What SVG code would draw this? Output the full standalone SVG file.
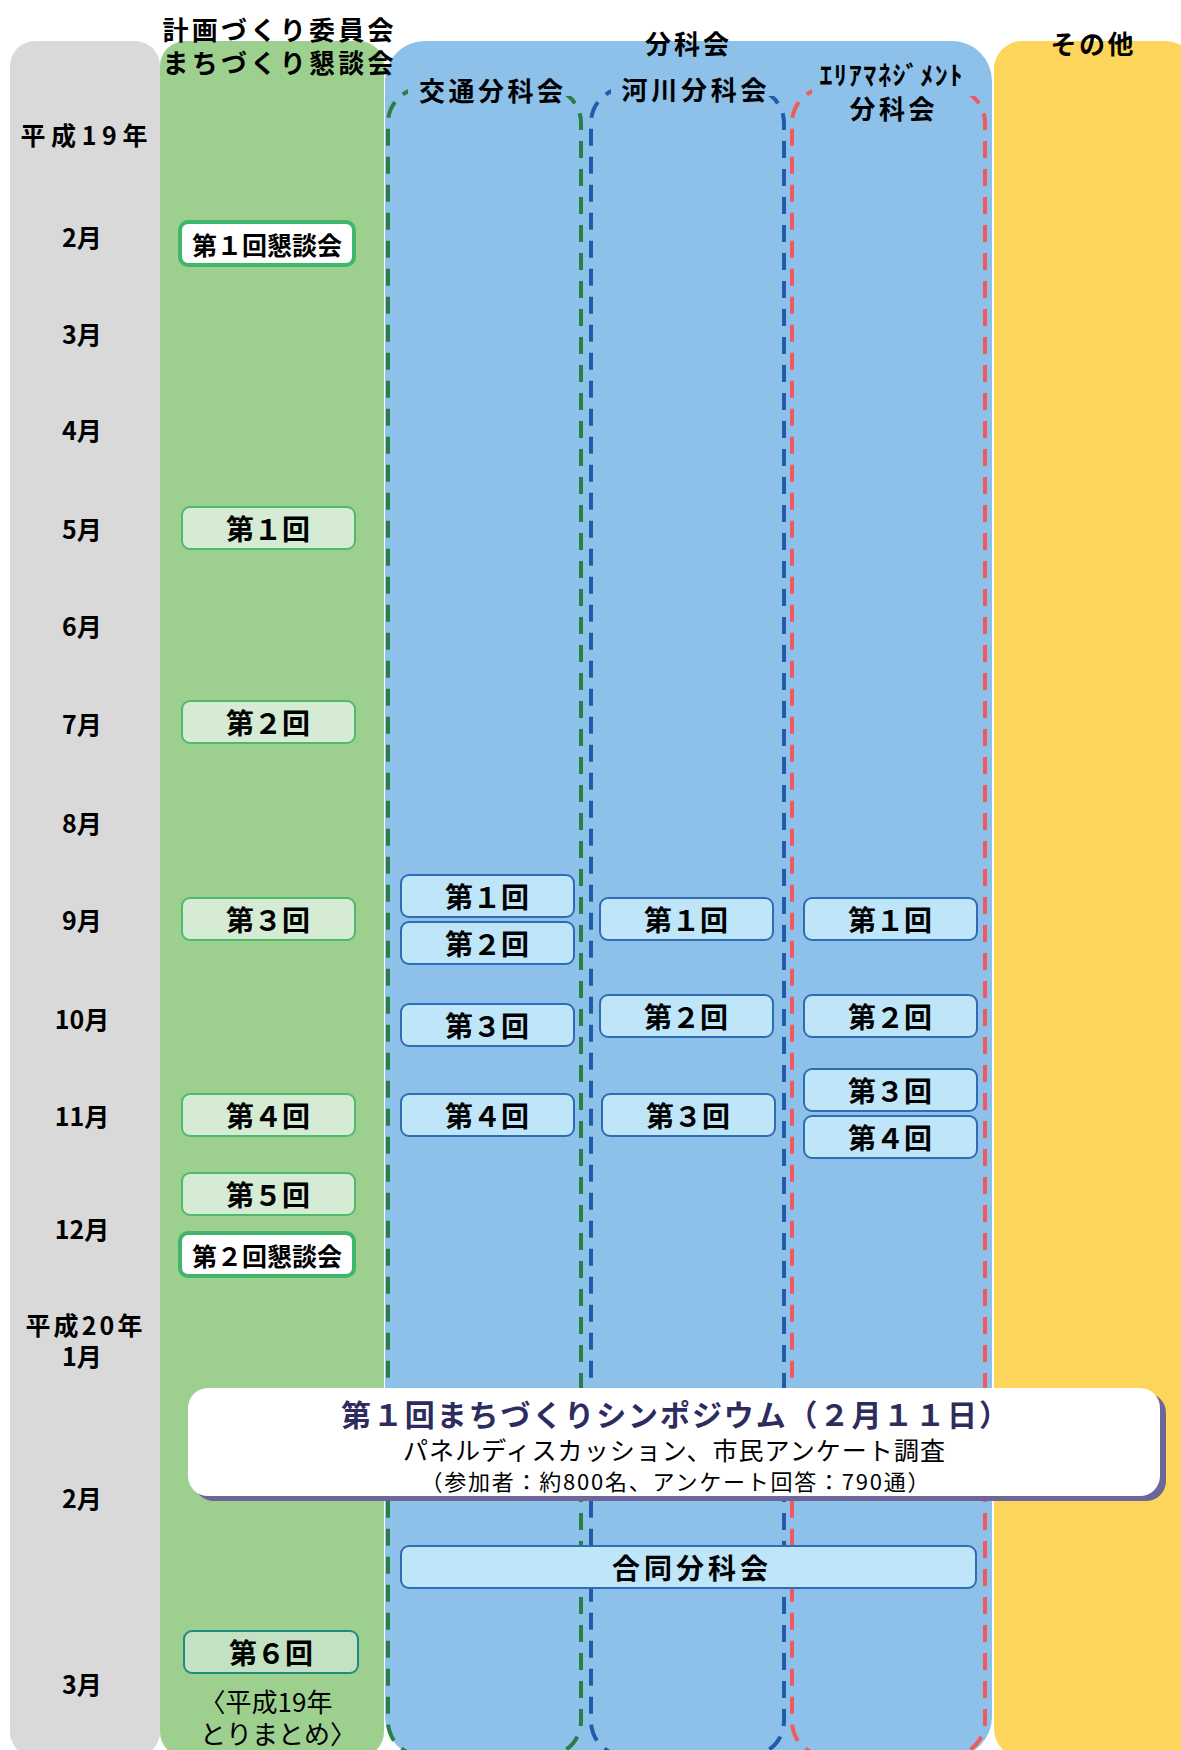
<svg xmlns="http://www.w3.org/2000/svg" width="1181" height="1750" viewBox="0 0 1181 1750">
<style>
text{font-family:"Noto Sans CJK JP","Noto Sans CJK SC",sans-serif;text-anchor:middle;dominant-baseline:central;fill:#000}
.hdr{font-size:26px;font-weight:bold}
.mon{font-size:25px;font-weight:bold}
.bx{font-size:28px;font-weight:bold}
.bx2{font-size:25px;font-weight:bold}
.gbox{fill:#D5EBD4;stroke:#4DBB6D;stroke-width:2}
.wbox{fill:#FFFFFF;stroke:#3FB66B;stroke-width:4}
.bbox{fill:#BEE5F8;stroke:#2F6CB5;stroke-width:2}
.dash{fill:none;stroke-width:4;stroke-dasharray:17 11}
.cover{fill:#8DC1E9}
</style>

<g id="columns">
  <rect id="col-month" x="10" y="41" width="150" height="1716" rx="25" fill="#D9D9D9"/>
  <rect id="col-committee" x="160" y="41" width="224" height="1716" rx="25" fill="#9DD08F"/>
  <rect id="col-subcommittee" x="385" y="41" width="607" height="1716" rx="40" fill="#8DC1E9"/>
  <rect id="col-other" x="994" y="41" width="200" height="1716" rx="28" fill="#FDD55B"/>
</g>

<g id="subcolumns">
  <rect x="388" y="88" width="193" height="1668" rx="35" class="dash" stroke="#2A7F45"/>
  <rect x="591" y="88" width="193" height="1668" rx="35" class="dash" stroke="#1F5DAA"/>
  <rect x="792" y="88" width="193" height="1668" rx="35" class="dash" stroke="#EF5A5E"/>
  <rect class="cover" x="408" y="60" width="163" height="36"/>
  <rect class="cover" x="611" y="60" width="163" height="36"/>
  <rect class="cover" x="812" y="60" width="163" height="36"/>
</g>

<g id="headers">
  <text class="hdr" x="278" y="28" textLength="231" lengthAdjust="spacing">計画づくり委員会</text>
  <text class="hdr" x="278" y="61" textLength="231" lengthAdjust="spacing">まちづくり懇談会</text>
  <text class="hdr" x="687" y="42" textLength="84" lengthAdjust="spacing">分科会</text>
  <text class="hdr" x="1092" y="42" textLength="83" lengthAdjust="spacing">その他</text>
  <text class="hdr" x="491" y="89" textLength="144" lengthAdjust="spacing">交通分科会</text>
  <text class="hdr" x="694" y="88" textLength="145" lengthAdjust="spacing">河川分科会</text>
  <text class="hdr" x="891" y="73" textLength="143" lengthAdjust="spacing">ｴﾘｱﾏﾈｼﾞﾒﾝﾄ</text>
  <text class="hdr" x="892" y="107" textLength="85" lengthAdjust="spacing">分科会</text>
</g>

<g id="months">
  <text class="mon" x="84" y="134" textLength="127" lengthAdjust="spacing">平成19年</text>
  <text class="mon" x="82" y="236">2月</text>
  <text class="mon" x="82" y="333">3月</text>
  <text class="mon" x="82" y="429">4月</text>
  <text class="mon" x="82" y="528">5月</text>
  <text class="mon" x="82" y="625">6月</text>
  <text class="mon" x="82" y="723">7月</text>
  <text class="mon" x="82" y="822">8月</text>
  <text class="mon" x="82" y="919">9月</text>
  <text class="mon" x="82" y="1018">10月</text>
  <text class="mon" x="82" y="1115">11月</text>
  <text class="mon" x="82" y="1228">12月</text>
  <text class="mon" x="84" y="1324" textLength="117" lengthAdjust="spacing">平成20年</text>
  <text class="mon" x="82" y="1355">1月</text>
  <text class="mon" x="82" y="1497">2月</text>
  <text class="mon" x="82" y="1683">3月</text>
</g>

<g id="committee">
  <g id="k1"><rect class="wbox" x="180" y="222" width="174" height="43" rx="8"/><text class="bx2" x="267" y="244">第１回懇談会</text></g>
  <g id="c1"><rect class="gbox" x="182" y="507" width="173" height="42" rx="8"/><text class="bx" x="268" y="528">第１回</text></g>
  <g id="c2"><rect class="gbox" x="182" y="701" width="173" height="42" rx="8"/><text class="bx" x="268" y="722">第２回</text></g>
  <g id="c3"><rect class="gbox" x="182" y="898" width="173" height="42" rx="8"/><text class="bx" x="268" y="919">第３回</text></g>
  <g id="c4"><rect class="gbox" x="182" y="1094" width="173" height="42" rx="8"/><text class="bx" x="268" y="1115">第４回</text></g>
  <g id="c5"><rect class="gbox" x="182" y="1173" width="173" height="42" rx="8"/><text class="bx" x="268" y="1194">第５回</text></g>
  <g id="k2"><rect class="wbox" x="180" y="1233" width="174" height="43" rx="8"/><text class="bx2" x="267" y="1255">第２回懇談会</text></g>
  <g id="c6"><rect x="184" y="1631" width="174" height="42" rx="8" fill="#C3E2C3" stroke="#1F8A80" stroke-width="2"/><text class="bx" x="271" y="1652">第６回</text></g>
  <g id="summary"><text x="266" y="1700" font-size="26">〈平成19年</text><text x="278" y="1732" font-size="26">とりまとめ〉</text></g>
</g>

<g id="traffic">
  <g id="t1"><rect class="bbox" x="401" y="875" width="173" height="42" rx="8"/><text class="bx" x="487" y="896">第１回</text></g>
  <g id="t2"><rect class="bbox" x="401" y="922" width="173" height="42" rx="8"/><text class="bx" x="487" y="943">第２回</text></g>
  <g id="t3"><rect class="bbox" x="401" y="1004" width="173" height="42" rx="8"/><text class="bx" x="487" y="1025">第３回</text></g>
  <g id="t4"><rect class="bbox" x="401" y="1094" width="173" height="42" rx="8"/><text class="bx" x="487" y="1115">第４回</text></g>
</g>

<g id="river">
  <g id="r1"><rect class="bbox" x="600" y="898" width="173" height="42" rx="8"/><text class="bx" x="686" y="919">第１回</text></g>
  <g id="r2"><rect class="bbox" x="600" y="995" width="173" height="42" rx="8"/><text class="bx" x="686" y="1016">第２回</text></g>
  <g id="r3"><rect class="bbox" x="602" y="1094" width="173" height="42" rx="8"/><text class="bx" x="688" y="1115">第３回</text></g>
</g>

<g id="area">
  <g id="a1"><rect class="bbox" x="804" y="898" width="173" height="42" rx="8"/><text class="bx" x="890" y="919">第１回</text></g>
  <g id="a2"><rect class="bbox" x="804" y="995" width="173" height="42" rx="8"/><text class="bx" x="890" y="1016">第２回</text></g>
  <g id="a3"><rect class="bbox" x="804" y="1069" width="173" height="42" rx="8"/><text class="bx" x="890" y="1090">第３回</text></g>
  <g id="a4"><rect class="bbox" x="804" y="1116" width="173" height="42" rx="8"/><text class="bx" x="890" y="1137">第４回</text></g>
</g>

<g id="symposium">
  <rect x="194" y="1393" width="972" height="108" rx="20" fill="#6C6699"/>
  <rect x="188" y="1388" width="972" height="108" rx="20" fill="#FFFFFF"/>
  <text x="675" y="1413" font-size="30" font-weight="bold" style="fill:#2E2C5E" textLength="668" lengthAdjust="spacing">第１回まちづくりシンポジウム（２月１１日）</text>
  <text x="674" y="1449" font-size="25" textLength="542" lengthAdjust="spacing">パネルディスカッション、市民アンケート調査</text>
  <text x="675" y="1480" font-size="22" textLength="509" lengthAdjust="spacing">（参加者：約800名、アンケート回答：790通）</text>
</g>

<g id="joint">
  <rect class="bbox" x="401" y="1546" width="575" height="42" rx="8"/>
  <text class="bx" x="690" y="1567" textLength="156" lengthAdjust="spacing">合同分科会</text>
</g>

<g id="connectors"/>
</svg>
